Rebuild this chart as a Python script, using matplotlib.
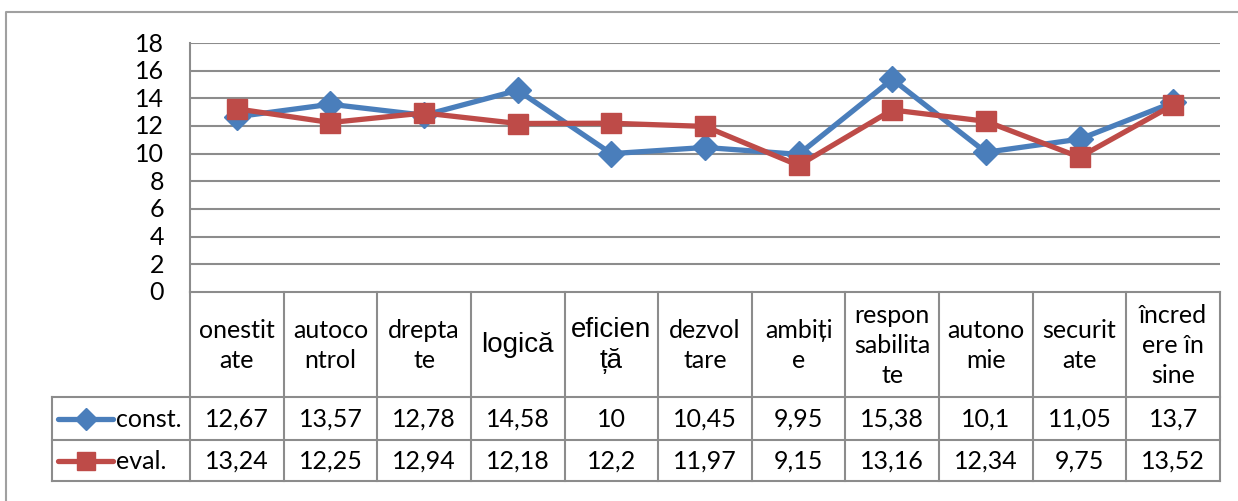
import matplotlib
matplotlib.use("Agg")
import matplotlib.pyplot as plt
from matplotlib.lines import Line2D

# --- data ---------------------------------------------------------------
categories = ["onestit\nate", "autoco\nntrol", "drepta\nte", "logică", "eficien\nță",
              "dezvol\ntare", "ambiți\ne", "respon\nsabilita\nte", "autono\nmie",
              "securit\nate", "încred\nere în\nsine"]
series_names = ["const.", "eval."]
const_vals = [12.67, 13.57, 12.78, 14.58, 10, 10.45, 9.95, 15.38, 10.1, 11.05, 13.7]
eval_vals = [13.24, 12.25, 12.94, 12.18, 12.2, 11.97, 9.15, 13.16, 12.34, 9.75, 13.52]
y_ticks = [0, 2, 4, 6, 8, 10, 12, 14, 16, 18]

# --- styling ------------------------------------------------------------
W, H = 1238, 502
BLUE = "#4A7EBB"
RED = "#BE4B48"
GRID = "#8C8C8C"
FONT = "Lato"
ALT_FONT = "Liberation Sans"
FS = 18

fig = plt.figure(figsize=(W / 100, H / 100), dpi=100)

# pixel layout of plot area and table
px_left, px_right = 190, 1220
px_top, px_zero = 44, 293
row_cat_bottom, row1_bottom, row2_bottom = 398, 441, 482
legend_left = 52

def fx(px):
    return px / W

def fy(py):
    return 1 - py / H

ax = fig.add_axes([fx(px_left), fy(px_zero), fx(px_right) - fx(px_left), fy(px_top) - fy(px_zero)])
n = len(categories)
ax.set_xlim(-0.5, n - 0.5)
ax.set_ylim(0, 18)
ax.set_yticks(y_ticks)
ax.set_yticklabels([])
ax.tick_params(length=0)
ax.set_xticks([])
for s in ["top", "right", "bottom"]:
    ax.spines[s].set_visible(False)
ax.spines["left"].set_color(GRID)
ax.spines["left"].set_linewidth(1.5)
for t in y_ticks[1:]:
    ax.axhline(t, color=GRID, lw=1.5, zorder=0)

x = list(range(n))
ax.plot(x, const_vals, color=BLUE, lw=3.8, marker="D", ms=13.5, mfc=BLUE, mec=BLUE,
        zorder=3, clip_on=False)
ax.plot(x, eval_vals, color=RED, lw=3.8, marker="s", ms=14.5, mfc=RED, mec=RED,
        zorder=4, clip_on=False)

# overlay in pixel coordinates for table, frame and labels
ov = fig.add_axes([0, 0, 1, 1], zorder=-1)
ov.set_xlim(0, W)
ov.set_ylim(H, 0)
ov.axis("off")
ov.patch.set_alpha(0)

top = fig.add_axes([0, 0, 1, 1], zorder=5)
top.set_xlim(0, W)
top.set_ylim(H, 0)
top.axis("off")
top.patch.set_alpha(0)

# outer chart frame
ov.plot([6, 6, W], [H, 13, 13], color="#A0A0A0", lw=1.5)

# y tick labels
for t in y_ticks:
    py = px_zero - (px_zero - px_top) * t / 18
    top.text(164, py, str(t), ha="right", va="center", fontsize=FS, family=FONT)

# table grid
col_w = (px_right - px_left) / n
lw = 1.5
top.plot([px_left, px_right], [px_zero, px_zero], color=GRID, lw=lw)
for py in (row_cat_bottom, row1_bottom, row2_bottom):
    top.plot([legend_left, px_right], [py, py], color=GRID, lw=lw)
top.plot([legend_left, legend_left], [row_cat_bottom, row2_bottom], color=GRID, lw=lw)
for k in range(n + 1):
    xx = px_left + k * col_w
    top.plot([xx, xx], [px_zero, row2_bottom], color=GRID, lw=lw)

# category labels
cat_mid = (px_zero + row_cat_bottom) / 2
for i, c in enumerate(categories):
    cx = px_left + (i + 0.5) * col_w
    fam = ALT_FONT if c in ("logică", "eficien\nță") else FONT
    fs = 20 if fam == ALT_FONT else FS
    top.text(cx, cat_mid, c, ha="center", va="center", fontsize=fs, family=fam,
             linespacing=1.35 if fam == FONT else 1.28)

# value rows
def fmt(v):
    return f"{v:g}".replace(".", ",")

rows = [(const_vals, (row_cat_bottom + row1_bottom) / 2),
        (eval_vals, (row1_bottom + row2_bottom) / 2)]
for vals, cy in rows:
    for i, v in enumerate(vals):
        cx = px_left + (i + 0.5) * col_w
        top.text(cx, cy, fmt(v), ha="center", va="center", fontsize=FS, family=FONT)

# legend keys in the table
keys = [(BLUE, "D", 11), (RED, "s", 13)]
for (col, mk, ms), name, (_, cy) in zip(keys, series_names, rows):
    top.add_line(Line2D([58, 113], [cy, cy], color=col, lw=3.8, solid_capstyle="round"))
    top.add_line(Line2D([86], [cy], color=col, marker=mk, ms=ms, mfc=col, mec=col))
    top.text(116, cy, name, ha="left", va="center", fontsize=FS, family=FONT)

fig.savefig("out.png", dpi=100, facecolor="white")
